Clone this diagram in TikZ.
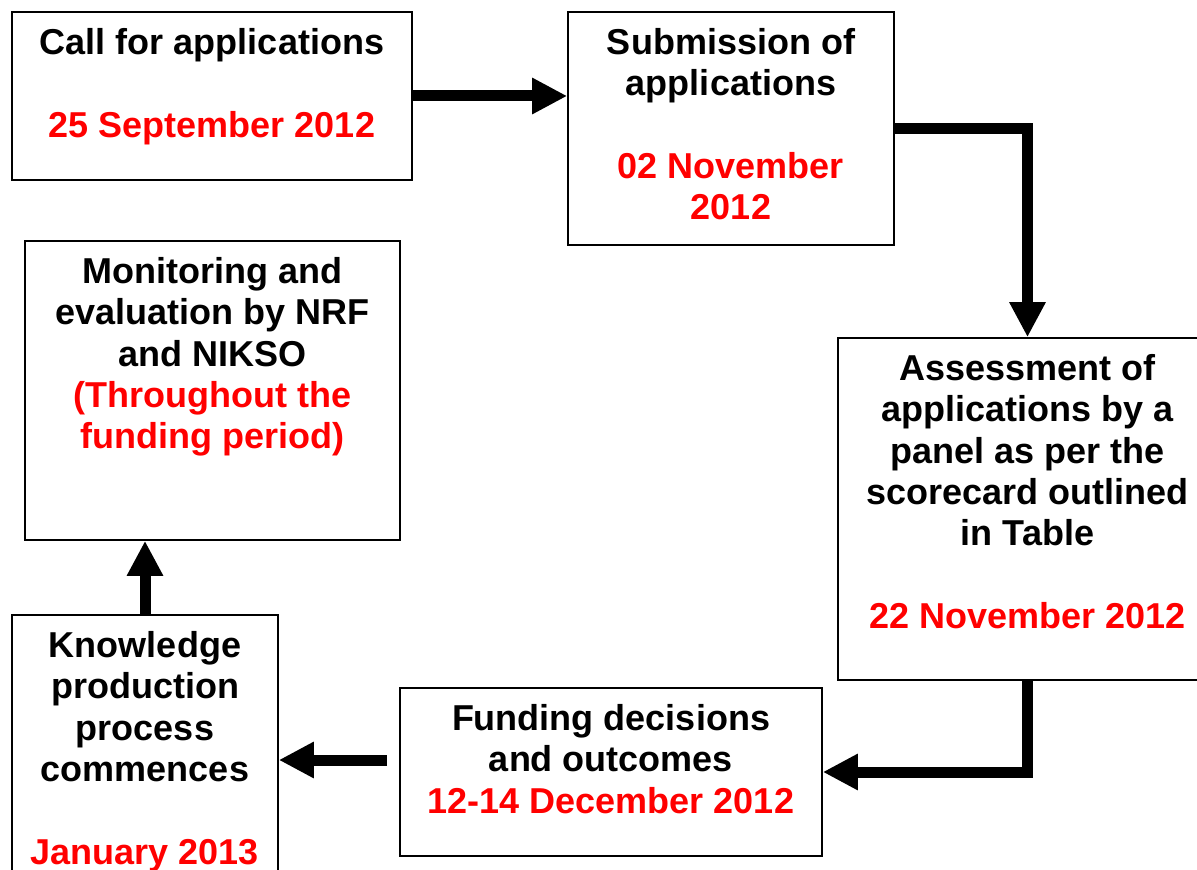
\documentclass[tikz,border=0pt]{standalone}
\usepackage{fontspec}
\setmainfont{Liberation Sans}
\usetikzlibrary{arrows.meta,fit,calc}

\tikzset{every picture/.style={line width=0.75pt}}
\tikzset{
	stage/.style={draw, line width=1.2pt, inner sep=0pt},
	stagetext/.style={anchor=north, inner sep=0pt, align=center, font=\bfseries\fontsize{27}{31}\selectfont},
	flow/.style={line width=8.25pt, -{Triangle[length=26.25pt,width=25.5pt]}},
}
\newcommand{\dte}[1]{\textcolor{red}{#1}}

\begin{document}
\begin{tikzpicture}[x=0.75pt,y=0.75pt,yscale=-1,xscale=1]
	\useasboundingbox (0,0) rectangle (1197,870);
	\clip (0,0) rectangle (1197,870);
	
	%Shape: Rectangle [call]
	\node[stage, fit={(12,12) (412,180)}] (call) {};
	%Shape: Rectangle [submission]
	\node[stage, fit={(568,12) (894,245)}] (sub) {};
	%Shape: Rectangle [assessment]
	\node[stage, fit={(838,338) (1217,680)}] (assess) {};
	%Shape: Rectangle [funding]
	\node[stage, fit={(400,688) (822,856)}] (fund) {};
	%Shape: Rectangle [knowledge]
	\node[stage, fit={(12,615) (278,905)}] (know) {};
	%Shape: Rectangle [monitoring]
	\node[stage, fit={(25,241) (400,540)}] (moni) {};
	
	% Text Node
	\node[stagetext] (calltxt) at ([yshift=12.5pt]call.north) {Call for applications\\[31pt]\dte{25 September 2012}};
	% Text Node
	\node[stagetext] (subtxt) at ([yshift=12.5pt]sub.north) {Submission of\\applications\\[31pt]\dte{02 November}\\\dte{2012}};
	% Text Node
	\node[stagetext] (assesstxt) at ([yshift=12.5pt]assess.north) {Assessment of\\applications by a\\panel as per the\\scorecard outlined\\in Table\\[31pt]\dte{22 November 2012}};
	% Text Node
	\node[stagetext] (fundtxt) at ([yshift=12.5pt]fund.north) {Funding decisions\\and outcomes\\\dte{12-14 December 2012}};
	% Text Node
	\node[stagetext] (knowtxt) at ([yshift=12.5pt]know.north) {Knowledge\\production\\process\\commences\\[31pt]\dte{January 2013}};
	% Text Node
	\node[stagetext] (monitxt) at ([yshift=12.5pt]moni.north) {Monitoring and\\evaluation by NRF\\and NIKSO\\\dte{(Throughout the}\\\dte{funding period)}};
	
	%Arrows
	\draw[flow] (call.east) -- (call.east -| sub.west);
	\draw[flow] (sub.east) -| (assess.north);
	\draw[flow] (assess.south) |- (fund.east);
	\draw[flow] ($(fund.west |- know.east)+(-12,0)$) -- (know.east);
	\draw[flow] (know.north) -- (know.north |- moni.south);
	
\end{tikzpicture}
\end{document}
